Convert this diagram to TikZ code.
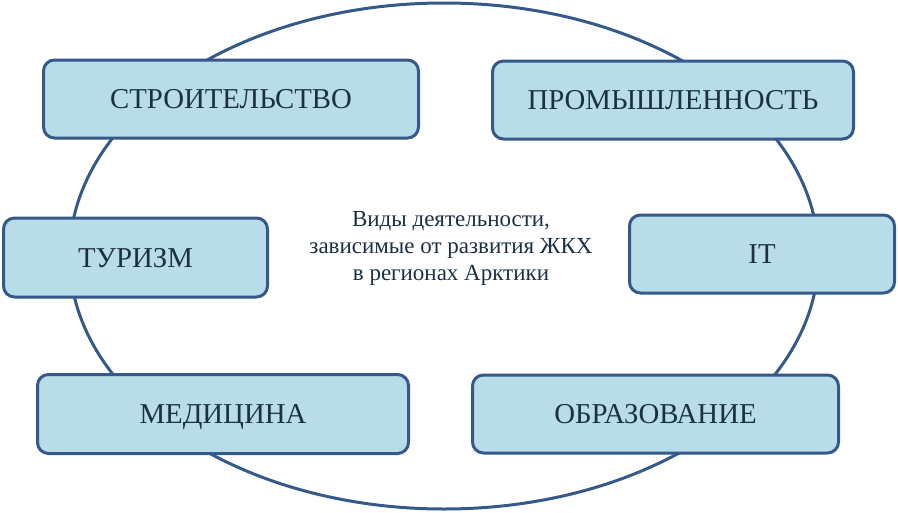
\documentclass[tikz,border=0pt]{standalone}
\usepackage{fontspec}
\setmainfont{Liberation Serif}
\usetikzlibrary{shapes.geometric}
\definecolor{edgeblue}{HTML}{34598A}
\definecolor{boxfill}{HTML}{B8DCE8}
\definecolor{txtdark}{HTML}{1C3045}
\tikzset{
  areabox/.style={draw=edgeblue, line width=3pt, fill=boxfill, rounded corners=11pt,
    text=txtdark, font=\fontsize{28.8}{30}\selectfont, inner sep=0pt,
    text height=19pt, text depth=0pt},
}
\begin{document}
\begin{tikzpicture}[x=1pt,y=-1pt]
\useasboundingbox (0,0) rectangle (898,512);
\node[ellipse, draw=edgeblue, line width=3pt, minimum width=749pt, minimum height=506pt, inner sep=0pt] (ring) at (444,256) {};
\node[align=center, text=txtdark, font=\fontsize{23}{27}\selectfont] (center) at (451,248)
  {Виды деятельности,\\зависимые от развития ЖКХ\\в регионах Арктики};
\node[areabox, minimum width=375pt, minimum height=78pt] (build) at (231,99) {СТРОИТЕЛЬСТВО};
\node[areabox, minimum width=361pt, minimum height=78pt] (ind) at (673,100) {ПРОМЫШЛЕННОСТЬ};
\node[areabox, minimum width=264pt, minimum height=79pt] (tour) at (135.5,257.5) {ТУРИЗМ};
\node[areabox, minimum width=265pt, minimum height=78pt] (it) at (762,254) {IT};
\node[areabox, minimum width=371pt, minimum height=79pt] (med) at (223,414) {МЕДИЦИНА};
\node[areabox, minimum width=366pt, minimum height=78pt] (edu) at (655.5,414) {ОБРАЗОВАНИЕ};
\end{tikzpicture}
\end{document}
